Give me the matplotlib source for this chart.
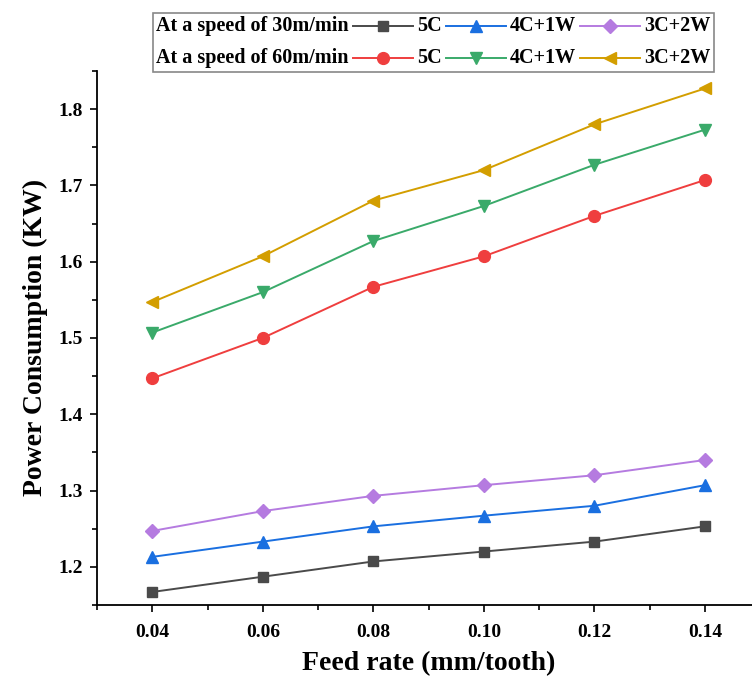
#!/usr/bin/env python3
"""Power consumption vs feed rate for two spindle speeds."""

import matplotlib
matplotlib.use("Agg")
import matplotlib.pyplot as plt
from matplotlib.lines import Line2D
from matplotlib.offsetbox import (AnchoredOffsetbox, DrawingArea, HPacker,
                                  TextArea, VPacker)
from matplotlib.ticker import MultipleLocator

plt.rcParams["font.family"] = ["Liberation Serif", "DejaVu Serif"]
plt.rcParams["font.weight"] = "bold"

feed = [0.04, 0.06, 0.08, 0.10, 0.12, 0.14]
tools = ["5C", "4C+1W", "3C+2W"]

# speed 30 m/min
p30_5c = [1.167, 1.187, 1.207, 1.220, 1.233, 1.253]
p30_4c1w = [1.213, 1.233, 1.253, 1.267, 1.280, 1.307]
p30_3c2w = [1.247, 1.273, 1.293, 1.307, 1.320, 1.340]
# speed 60 m/min
p60_5c = [1.447, 1.500, 1.567, 1.607, 1.660, 1.707]
p60_4c1w = [1.507, 1.560, 1.627, 1.673, 1.727, 1.773]
p60_3c2w = [1.547, 1.607, 1.680, 1.720, 1.780, 1.827]

row_titles = ["At a speed of 30m/min", "At a speed of 60m/min"]
yticks = [1.2, 1.3, 1.4, 1.5, 1.6, 1.7, 1.8]

C30 = ["#4a4a4a", "#1a6fe0", "#b57be0"]
M30 = ["s", "^", "D"]
C60 = ["#ef3e3e", "#3aaa6a", "#d39e00"]
M60 = ["o", "v", "<"]
MS = {"s": 7.5, "^": 8.5, "D": 7.5, "o": 8.5, "v": 8.5, "<": 8.5}

fig = plt.figure(figsize=(7.52, 6.82), dpi=100)
# axes run a little past the right edge (cropped like the original)
ax = fig.add_axes([0.129, 0.113, 0.882, 0.783])

rows = [(p30_5c, p30_4c1w, p30_3c2w), (p60_5c, p60_4c1w, p60_3c2w)]
styles = [(C30, M30), (C60, M60)]
for series, (cols, marks) in zip(rows, styles):
    for y, c, m in zip(series, cols, marks):
        ax.plot(feed, y, color=c, marker=m, ms=MS[m], lw=1.4, clip_on=False)

ax.set_xlim(0.03, 0.15)
ax.set_ylim(1.15, 1.85)
ax.xaxis.set_minor_locator(MultipleLocator(0.01))
ax.yaxis.set_minor_locator(MultipleLocator(0.05))
ax.set_xticks(feed)
ax.set_xticklabels([f"{v:.2f}" for v in feed])
ax.set_yticks(yticks)
ax.tick_params(which="major", direction="out", length=5, width=1.2, labelsize=14)
ax.tick_params(axis="x", which="major", pad=9)
ax.tick_params(axis="y", which="major", pad=5)
ax.tick_params(which="minor", direction="out", length=3.5, width=1.2)
for s in ["top", "right"]:
    ax.spines[s].set_visible(False)
for s in ["left", "bottom"]:
    ax.spines[s].set_linewidth(1.3)

ax.set_xlabel("Feed rate (mm/tooth)", fontsize=20, fontweight="bold", labelpad=7)
ax.set_ylabel("Power Consumption (KW)", fontsize=20, fontweight="bold", labelpad=8)

# Origin-style two-row legend (DrawingArea sizes are in points)
fs = 14.5
HW = 43
def handle(color, marker):
    da = DrawingArea(HW, 10, 0, 0)
    da.add_artist(Line2D([0, HW], [5, 5], color=color, lw=1.4))
    da.add_artist(Line2D([HW / 2], [5], color=color, marker=marker, ms=MS[marker]))
    return da

row_boxes = []
for title, (cols, marks) in zip(row_titles, styles):
    items = [TextArea(title, textprops=dict(fontsize=fs, fontweight="bold"))]
    for name, c, m in zip(tools, cols, marks):
        items.append(handle(c, m))
        items.append(TextArea(name, textprops=dict(fontsize=fs, fontweight="bold")))
    row_boxes.append(HPacker(children=items, align="center", pad=0, sep=3))
box = VPacker(children=row_boxes, align="left", pad=0, sep=9)
leg = AnchoredOffsetbox(loc="upper left", child=box, pad=0.25, borderpad=0,
                        frameon=True, bbox_to_anchor=(153 / 752, 1 - 12.5 / 682),
                        bbox_transform=fig.transFigure)
leg.patch.set_edgecolor("#888888")
leg.patch.set_linewidth(1.2)
ax.add_artist(leg)

fig.savefig("out.png", dpi=100)
